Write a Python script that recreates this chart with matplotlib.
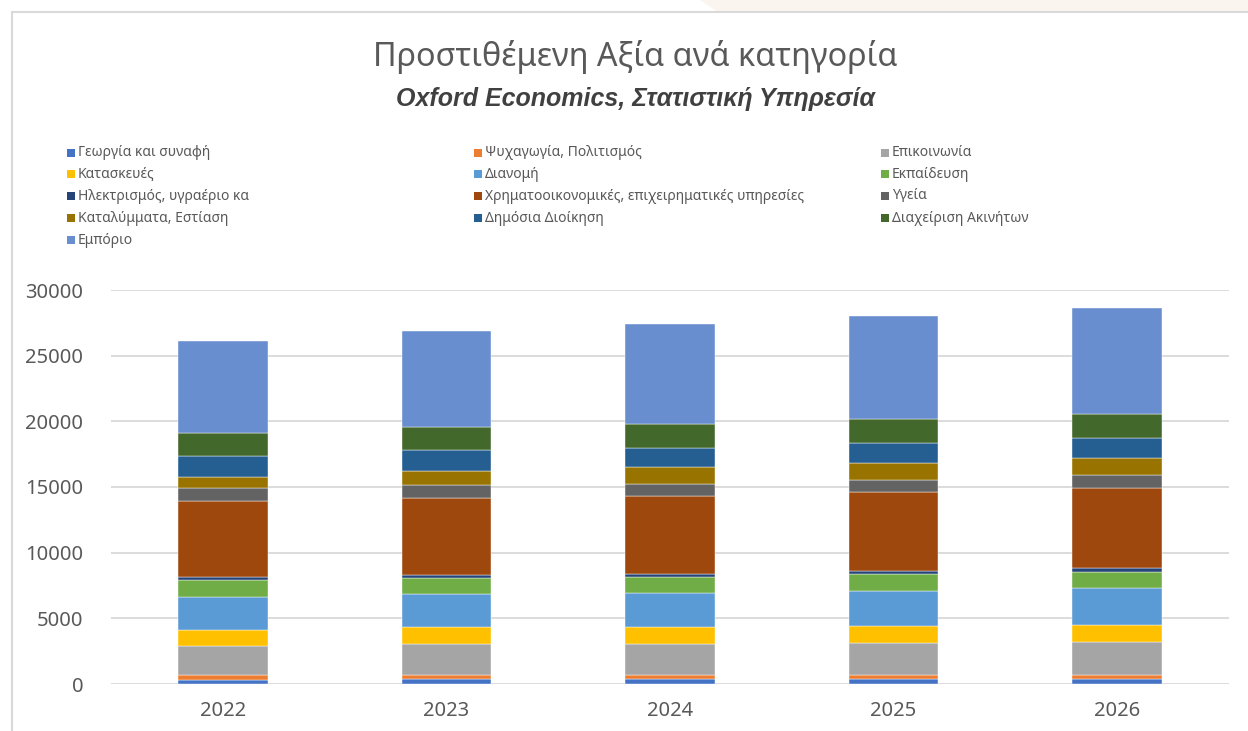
import matplotlib.pyplot as plt
import matplotlib.patches as mpatches
import numpy as np

plt.rcParams['font.family'] = ['Noto Sans', 'DejaVu Sans']

# Years on the x axis
years = ['2022', '2023', '2024', '2025', '2026']

# Sectors, bottom of the stack first
sectors = [
    'Γεωργία και συναφή',
    'Ψυχαγωγία, Πολιτισμός',
    'Επικοινωνία',
    'Κατασκευές',
    'Διανομή',
    'Εκπαίδευση',
    'Ηλεκτρισμός, υγραέριο κα',
    'Χρηματοοικονομικές, επιχειρηματικές υπηρεσίες',
    'Υγεία',
    'Καταλύμματα, Εστίαση',
    'Δημόσια Διοίκηση',
    'Διαχείριση Ακινήτων',
    'Εμπόριο',
]

# Values per sector, one per year
georgia = [330, 350, 350, 350, 350]
psychagogia = [325, 305, 305, 305, 358]
epikoinonia = [2210, 2391, 2413, 2490, 2490]
kataskeves = [1270, 1264, 1272, 1294, 1317]
dianomi = [2460, 2543, 2559, 2642, 2794]
ekpaideusi = [1294, 1241, 1271, 1294, 1242]
ilektrismos = [260, 228, 205, 252, 251]
xrimatooik = [5787, 5840, 5909, 5992, 6121]
ygeia = [959, 960, 944, 937, 990]
katalymata = [891, 1096, 1264, 1271, 1295]
dimosia = [1576, 1599, 1500, 1523, 1545]
akinita = [1721, 1721, 1774, 1797, 1828]
emporio = [7058, 7363, 7644, 7896, 8070]

series = [georgia, psychagogia, epikoinonia, kataskeves, dianomi, ekpaideusi,
          ilektrismos, xrimatooik, ygeia, katalymata, dimosia, akinita, emporio]

colors = ['#4472C4', '#ED7D31', '#A5A5A5', '#FFC000', '#5B9BD5', '#70AD47',
          '#264478', '#9E480E', '#636363', '#997300', '#255E91', '#43682B',
          '#698ED0']

W, H = 1248, 731
TXT = '#595959'


def px(x, y):
    # pixel position -> figure fraction
    return x / W, 1 - y / H


def main():
    fig = plt.figure(figsize=(W / 100, H / 100), dpi=100)

    # beige strip behind the chart at the top right
    fig.patches.append(mpatches.Polygon(
        [px(700, 0), px(1248, 0), px(1248, 12), px(718, 12)],
        closed=True, transform=fig.transFigure, color='#FAF5EE', lw=0))
    # chart frame (left and top edges)
    fig.add_artist(plt.Line2D([12 / W, 12 / W], [0, 1 - 12 / H], transform=fig.transFigure,
                              color='#D9D9D9', lw=1.5))
    fig.add_artist(plt.Line2D([12 / W, 1], [1 - 12 / H, 1 - 12 / H], transform=fig.transFigure,
                              color='#D9D9D9', lw=1.5))

    ax = fig.add_axes([111 / W, (H - 684) / H, 1118 / W, 394 / H])
    x = np.arange(len(years))
    bottom = np.zeros(len(years))
    for vals, c, name in zip(series, colors, sectors):
        ax.bar(x, vals, 0.4, bottom=bottom, color=c, label=name,
               edgecolor='white', linewidth=0.3, zorder=3)
        bottom += np.array(vals)

    ax.set_xlim(-0.5, len(years) - 0.5)
    ax.set_ylim(0, 30000)
    ax.set_yticks(np.arange(0, 30001, 5000))
    ax.set_xticks(x)
    ax.set_xticklabels(years)
    ax.tick_params(axis='both', length=0, labelsize=14.5, labelcolor=TXT)
    ax.tick_params(axis='y', pad=20)
    ax.tick_params(axis='x', pad=12)
    ax.grid(axis='y', color='#D9D9D9', lw=1.3, zorder=0)
    for s in ax.spines.values():
        s.set_visible(False)

    # titles
    fig.text(*px(635, 57), 'Προστιθέμενη Αξία ανά κατηγορία', ha='center', va='center',
             fontsize=23.3, color=TXT)
    fig.text(*px(635, 99), 'Oxford Economics, Στατιστική Υπηρεσία', ha='center', va='center',
             fontsize=18, color='#404040', fontweight='bold', fontstyle='italic',
             family=['Liberation Sans', 'DejaVu Sans'])

    # legend, filled row by row in three columns
    col_x = [67, 474, 881]
    row_y = [153, 174, 196, 218, 240]
    for i, (name, c) in enumerate(zip(sectors, colors)):
        cx = col_x[i % 3]
        cy = row_y[i // 3]
        fig.patches.append(mpatches.Rectangle(px(cx, cy + 4), 8 / W, 8 / H,
                                              transform=fig.transFigure, color=c, lw=0))
        fig.text(*px(cx + 11, cy), name, ha='left', va='center', fontsize=10, color=TXT)

    plt.savefig('out.png', dpi=100)


if __name__ == "__main__":
    main()
